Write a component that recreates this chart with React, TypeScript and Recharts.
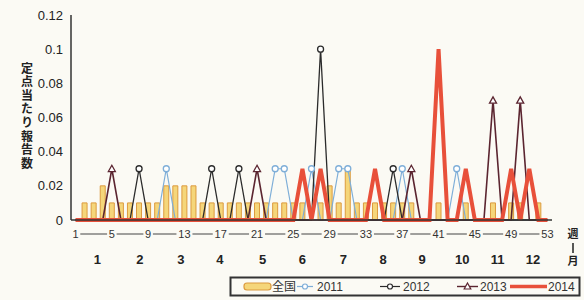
import React from 'react';
import { ComposedChart, Bar, Line, XAxis, YAxis } from 'recharts';

// ─── Data ────────────────────────────────────────────────────────────────────
const weeks = Array.from({ length: 53 }, (_, i) => i + 1);

const national = [
  0, 0.01, 0.01, 0.02, 0.01, 0.01, 0.01, 0.01, 0.01, 0.01,
  0.02, 0.02, 0.02, 0.02, 0.01, 0.01, 0.01, 0.01, 0.01, 0.01,
  0.01, 0.01, 0.01, 0.01, 0.01, 0.01, 0, 0.01, 0.02, 0.01,
  0.03, 0.01, 0.01, 0.01, 0.01, 0.01, 0.01, 0.01, 0, 0,
  0.01, 0, 0, 0.01, 0, 0, 0.01, 0, 0.01, 0.01,
  0, 0.01, 0,
];

const y2011 = [
  0, 0, 0, 0, 0, 0, 0, 0, 0, 0,
  0.03, 0, 0, 0, 0, 0, 0, 0, 0, 0,
  0, 0, 0.03, 0.03, 0, 0, 0.03, 0, 0, 0.03,
  0.03, 0, 0, 0, 0, 0, 0.03, 0, 0, 0,
  0, 0, 0.03, 0, 0, 0, 0, 0, 0, 0,
  0, 0, 0,
];

const y2012 = [
  0, 0, 0, 0, 0, 0, 0, 0.03, 0, 0,
  0, 0, 0, 0, 0, 0.03, 0, 0, 0.03, 0,
  0, 0, 0, 0, 0, 0, 0, 0.1, 0, 0,
  0, 0, 0, 0, 0, 0.03, 0, 0, 0, 0,
  0, 0, 0, 0, 0, 0, 0, 0, 0, 0,
  0, 0, 0,
];

const y2013 = [
  0, 0, 0, 0, 0.03, 0, 0, 0, 0, 0,
  0, 0, 0, 0, 0, 0, 0, 0, 0, 0,
  0.03, 0, 0, 0, 0, 0, 0, 0, 0, 0,
  0, 0, 0, 0, 0, 0, 0, 0.03, 0, 0,
  0, 0, 0, 0, 0, 0, 0.07, 0, 0, 0.07,
  0, 0, 0,
];

const y2014 = [
  0, 0, 0, 0, 0, 0, 0, 0, 0, 0,
  0, 0, 0, 0, 0, 0, 0, 0, 0, 0,
  0, 0, 0, 0, 0, 0.03, 0, 0.03, 0, 0,
  0, 0, 0, 0.03, 0, 0, 0, 0, 0, 0,
  0.1, 0, 0, 0.03, 0, 0, 0, 0, 0.03, 0,
  0.03, 0, 0,
];

const yTicks = [0, 0.02, 0.04, 0.06, 0.08, 0.1, 0.12];
const monthLabels = ['1', '2', '3', '4', '5', '6', '7', '8', '9', '10', '11', '12'];
const monthWeeks = [3.4, 8.1, 12.6, 16.9, 21.6, 26, 30.5, 34.9, 39.2, 43.6, 47.5, 51.4];
const yTitle = '定点当たり報告数';

const data = weeks.map((w, i) => ({
  week: w,
  national: national[i],
  s2011: y2011[i],
  s2012: y2012[i],
  s2013: y2013[i],
  s2014: y2014[i],
}));

const BG = '#fbfaf4';
const C2011 = '#7eaed8';
const C2012 = '#2b2b2b';
const C2013 = '#5b2530';
const C2014 = '#e8503a';
const JP = "'Noto Sans CJK JP', sans-serif";

// ─── Markers (only drawn where there is a report) ────────────────────────────
const makeDot = (stroke: string, shape: 'circle' | 'tri') => (props: any) => {
  const { cx, cy, value, index } = props;
  if (!value || cx == null) return <g key={`e${index}`} />;
  if (shape === 'tri') {
    return (
      <path
        key={`t${index}`}
        d={`M${cx},${cy - 3.5} L${cx + 3.5},${cy + 2.8} L${cx - 3.5},${cy + 2.8} Z`}
        fill="#fff" stroke={stroke} strokeWidth={1.3}
      />
    );
  }
  return <circle key={`c${index}`} cx={cx} cy={cy} r={3} fill="#fff" stroke={stroke} strokeWidth={1.3} />;
};

// ─── Week tick: label sitting on the axis line ───────────────────────────────
const WeekTick = (props: any) => {
  const { x, y, payload } = props;
  const label = String(payload.value);
  const w = label.length * 6.5 + 3;
  return (
    <g>
      <rect x={x - w / 2} y={y - 6} width={w} height={12} fill={BG} />
      <text x={x} y={y} dy={4} textAnchor="middle" fontSize={11} fill="#333">{label}</text>
    </g>
  );
};

export default function App() {
  return (
    <div style={{ position: 'absolute', left: 0, top: 0, width: 584, height: 300, background: BG, fontFamily: "'Liberation Sans', Arial, sans-serif" }}>
      <ComposedChart width={584} height={300} data={data} margin={{ top: 15, right: 32, left: 31, bottom: 32 }}>
        <XAxis xAxisId={0} dataKey="week" tick={false} tickLine={false} height={14} axisLine={{ stroke: '#333', strokeWidth: 1.5 }} />
        <XAxis
          xAxisId={1} dataKey="week" interval={3} height={14}
          tickLine={false} tickSize={0} tickMargin={0}
          axisLine={{ stroke: '#444', strokeWidth: 1 }}
          tick={<WeekTick />}
        />
        <XAxis
          xAxisId={2} dataKey="week" type="number" domain={[0.5, 53.5]}
          ticks={monthWeeks} tickFormatter={(_v: number, i: number) => monthLabels[i]}
          height={20} tickLine={false} axisLine={false} tickSize={0} tickMargin={7}
          tick={{ fontSize: 13, fontWeight: 700, fill: '#222' }}
        />
        <XAxis xAxisId={3} orientation="top" dataKey="week" height={0} tick={false} tickLine={false} axisLine={{ stroke: '#333', strokeWidth: 1.5 }} />
        <YAxis
          domain={[0, 0.12]} ticks={yTicks} width={40}
          tickLine={false} tickFormatter={(v: number) => String(v)}
          tick={{ fontSize: 13, fill: '#222' }}
          axisLine={{ stroke: '#333', strokeWidth: 1.5 }}
        />
        <YAxis yAxisId="r" orientation="right" domain={[0, 0.12]} width={0} tick={false} tickLine={false} axisLine={{ stroke: '#333', strokeWidth: 1.5 }} />

        <Bar dataKey="national" name="全国" barSize={5} fill="#f5d67a" stroke="#dc9a3e" strokeWidth={1} isAnimationActive={false} />
        <Line dataKey="s2011" name="2011" type="linear" stroke={C2011} strokeWidth={1.2} dot={makeDot(C2011, 'circle')} activeDot={false} isAnimationActive={false} />
        <Line dataKey="s2012" name="2012" type="linear" stroke={C2012} strokeWidth={1.3} dot={makeDot(C2012, 'circle')} activeDot={false} isAnimationActive={false} />
        <Line dataKey="s2013" name="2013" type="linear" stroke={C2013} strokeWidth={1.6} dot={makeDot(C2013, 'tri')} activeDot={false} isAnimationActive={false} />
        <Line dataKey="s2014" name="2014" type="linear" stroke={C2014} strokeWidth={4} dot={false} activeDot={false} isAnimationActive={false} />
      </ComposedChart>

      {/* Axis titles and legend */}
      <svg width={584} height={300} style={{ position: 'absolute', left: 0, top: 0, pointerEvents: 'none' }}>
        <text
          x={27} y={62} fontSize={12} fontWeight={700} fill="#222" fontFamily={JP}
          letterSpacing={1.6} style={{ writingMode: 'vertical-rl' }}
        >
          {yTitle}
        </text>
        <text x={573} y={238} textAnchor="middle" fontSize={11} fontWeight={700} fill="#222" fontFamily={JP}>週</text>
        <line x1={573} y1={243} x2={573} y2={253} stroke="#222" strokeWidth={1.5} />
        <text x={573} y={265} textAnchor="middle" fontSize={11} fontWeight={700} fill="#222" fontFamily={JP}>月</text>

        <rect x={230.5} y={277.5} width={349} height={18} fill="none" stroke="#333" strokeWidth={2} />
        <rect x={244} y={283} width={27} height={7} rx={3} fill="#f5d67a" stroke="#dc9a3e" strokeWidth={1.2} />
        <text x={272} y={291} fontSize={12} fill="#333" fontFamily={JP}>全国</text>

        <line x1={297} y1={286.5} x2={313} y2={286.5} stroke={C2011} strokeWidth={1.2} />
        <circle cx={305} cy={286.5} r={2.5} fill="#fff" stroke={C2011} strokeWidth={1.2} />
        <text x={317} y={291} fontSize={12} fill="#333">2011</text>

        <line x1={380} y1={286.5} x2={400} y2={286.5} stroke={C2012} strokeWidth={1.2} />
        <circle cx={390} cy={286.5} r={2.5} fill="#fff" stroke={C2012} strokeWidth={1.2} />
        <text x={403} y={291} fontSize={12} fill="#333">2012</text>

        <line x1={457} y1={286.5} x2={478} y2={286.5} stroke={C2013} strokeWidth={1.4} />
        <path d="M467.5,283 L470.8,289 L464.2,289 Z" fill="#fff" stroke={C2013} strokeWidth={1.2} />
        <text x={480} y={291} fontSize={12} fill="#333">2013</text>

        <line x1={510} y1={286.5} x2={547} y2={286.5} stroke={C2014} strokeWidth={3.5} />
        <text x={548} y={291} fontSize={12} fill="#333">2014</text>
      </svg>
    </div>
  );
}
